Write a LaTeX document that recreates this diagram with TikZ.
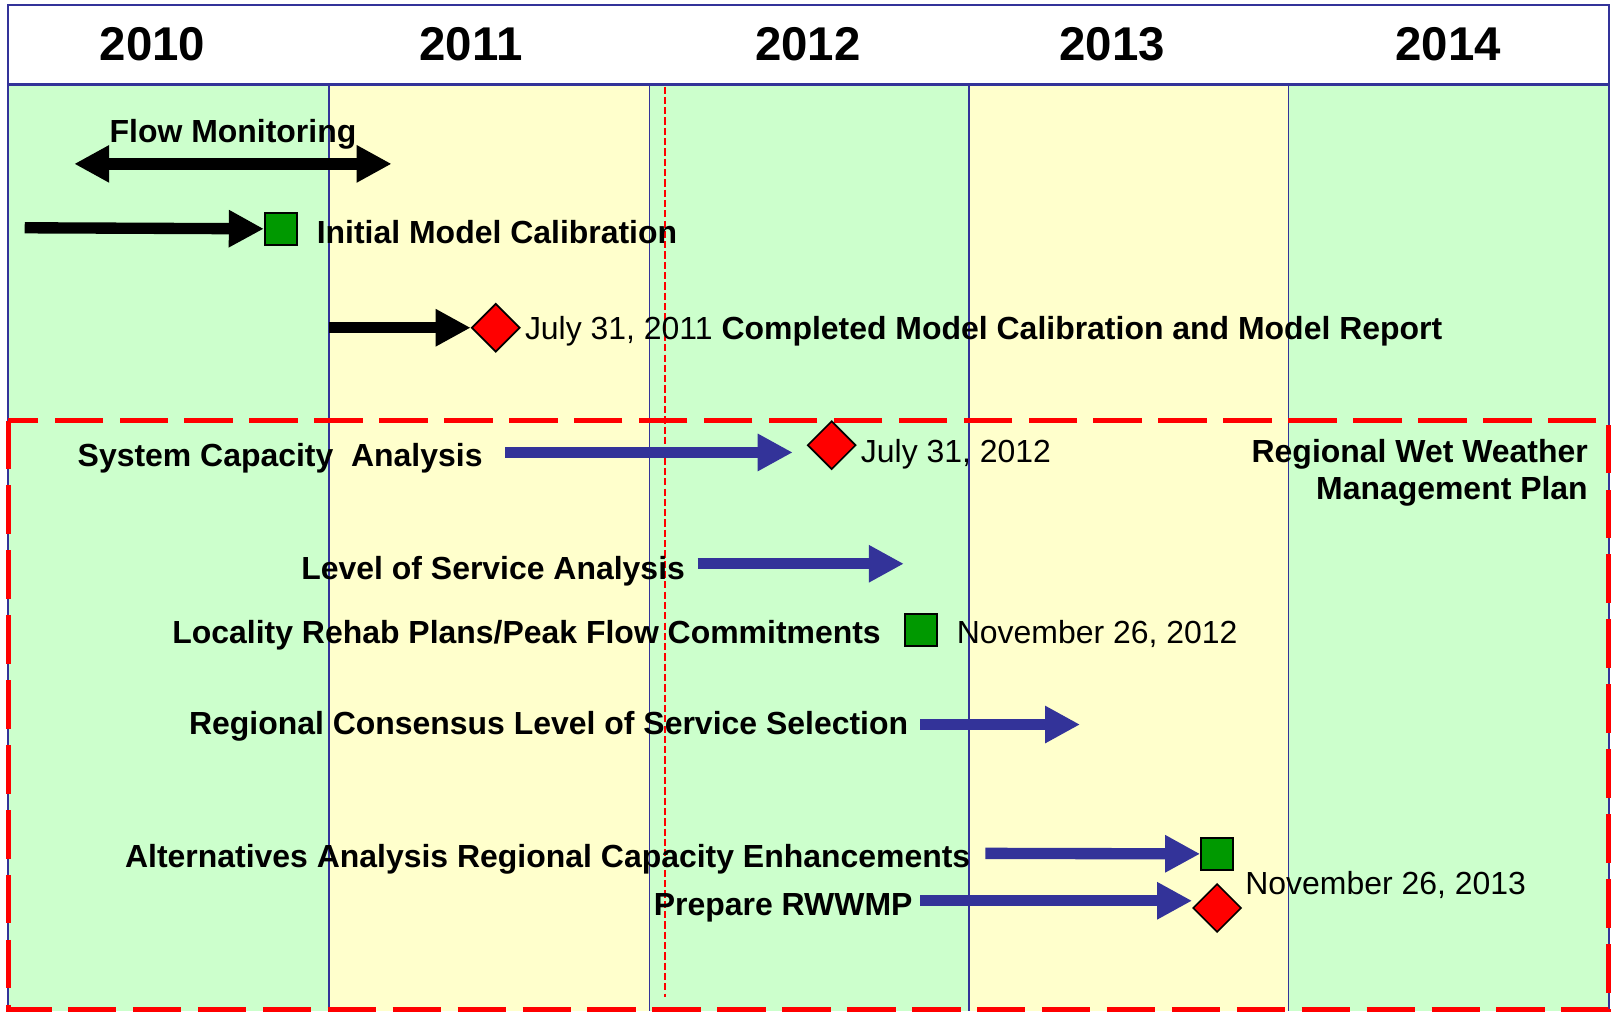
\documentclass[tikz,border=0pt]{standalone}
\usepackage{fontspec}
\setmainfont{Liberation Sans}
\usepackage{tikz}
\usetikzlibrary{arrows.meta,shapes.geometric}
\usetikzlibrary{positioning}
\definecolor{lgreen}{HTML}{CCFFCC}
\definecolor{lyellow}{HTML}{FFFFCC}
\definecolor{planblue}{HTML}{333399}
\definecolor{msgreen}{HTML}{009900}
\tikzset{
  task/.style={
    inner sep=0pt,
    font=\fontsize{15.5}{18}\selectfont\bfseries,
  },
  datelbl/.style={
    inner sep=0pt,
    font=\fontsize{15.5}{18}\selectfont,
  },
  yearlbl/.style={
    inner sep=0pt,
    font=\fontsize{23}{26}\selectfont\bfseries,
  },
  done/.style={
    rectangle,
    draw=black, fill=msgreen, line width=1pt,
    minimum size=15.5pt,
    inner sep=0pt,
  },
  due/.style={
    diamond,
    draw=black, fill=red, line width=0.8pt,
    minimum width=23.5pt, minimum height=23.5pt,
    inner sep=0pt,
  },
  bar/.style={->, line width=5.5pt},
}

\begin{document}
\begin{tikzpicture}[x=0.5pt,y=-0.5pt,>={Triangle[length=17pt,width=17pt]}]
  \useasboundingbox (0,0) rectangle (1568,981);
  % year columns
  \foreach \a/\b/\c in {8/319/lgreen,319/630/lyellow,630/940/lgreen,940/1250/lyellow,1250/1561/lgreen}
    \fill[\c] (\a,82) rectangle (\b,981);
  \foreach \a in {319,630,940,1250}
    \draw[planblue, line width=0.75pt] (\a,82) -- (\a,981);
  \draw[planblue, line width=1pt, fill=white] (8,5) rectangle (1561,82);
  \draw[planblue, line width=1pt] (8,82) -- (8,981) (1561,82) -- (1561,981);
  \node[yearlbl] (y2010) at (148,43) {2010};
  \node[yearlbl] (y2011) at (457,43) {2011};
  \node[yearlbl] (y2012) at (784,43) {2012};
  \node[yearlbl] (y2013) at (1079,43) {2013};
  \node[yearlbl] (y2014) at (1405,43) {2014};
  % today line and plan box
  \draw[red, line width=1pt, dash pattern=on 3.5pt off 1.5pt] (645,84) -- (645,967);
  \draw[red, line width=2.5pt, dash pattern=on 23.5pt off 8pt] (8,408) rectangle (1561,980);

  % model calibration
  \node[task, anchor=base west] (flow) at (106,138) {Flow Monitoring};
  \coordinate (flowL) at (72,159);
  \coordinate (flowR) at (380,159);
  \draw[bar, <->] (flowL) -- (flowR);
  \node[done] (imc) at (272.5,222) {};
  \node[task, anchor=base west] (imcLbl) at (307,236) {Initial Model Calibration};
  \coordinate (imcStart) at (24,221);
  \draw[bar] (imcStart) -- (imc.west);
  \node[due] (cmc) at (481,318) {};
  \node[datelbl, anchor=base west] (cmcLbl) at (509,329)
    {July 31, 2011 \textbf{Completed Model Calibration and Model Report}};
  \coordinate (cmcStart) at (319,318);
  \draw[bar] (cmcStart) -- (cmc.west);

  % wet weather plan
  \node[task, anchor=base east] (plan1) at (1541,449) {Regional Wet Weather};
  \node[task, anchor=base east] (plan2) at (1541,485) {Management Plan};

  \node[task, anchor=base west] (sca) at (75,453) {System Capacity~ Analysis};
  \node[due] (scaDue) at (807,432) {};
  \node[datelbl, anchor=base west] (scaDate) at (835,449) {July 31, 2012};
  \coordinate (scaStart) at (490,439);
  \draw[bar, planblue, shorten >=6.75pt] (scaStart) -- (scaStart -| scaDue.west);

  \node[task, anchor=base west] (los) at (292,562) {Level of Service Analysis};
  \coordinate (losStart) at (677,547);
  \coordinate (losEnd) at (877,547);
  \draw[bar, planblue] (losStart) -- (losEnd);

  \node[task, anchor=base east] (lrp) at (855,624) {Locality Rehab Plans/Peak Flow Commitments};
  \node[done] (lrpDone) at (894,611) {};
  \node[datelbl, anchor=base west] (lrpDate) at (928,624) {November 26, 2012};

  \node[task, anchor=base west] (rcl) at (183,713) {Regional Consensus Level of Service Selection};
  \coordinate (rclStart) at (893,703);
  \coordinate (rclEnd) at (1048,703);
  \draw[bar, planblue] (rclStart) -- (rclEnd);

  \node[task, anchor=base west] (alt) at (121,842) {Alternatives Analysis Regional Capacity Enhancements};
  \node[done] (altDone) at (1181,828.5) {};
  \coordinate (altStart) at (956,828);
  \draw[bar, planblue] (altStart) -- (altDone.west);

  \node[task, anchor=base west] (prep) at (634,888) {Prepare RWWMP};
  \node[due] (prepDue) at (1181,881) {};
  \coordinate (prepStart) at (893,874);
  \draw[bar, planblue] (prepStart) -- (prepStart -| prepDue.west);
  \node[datelbl, anchor=base west] (prepDate) at (1208,868) {November 26, 2013};
\end{tikzpicture}
\end{document}
